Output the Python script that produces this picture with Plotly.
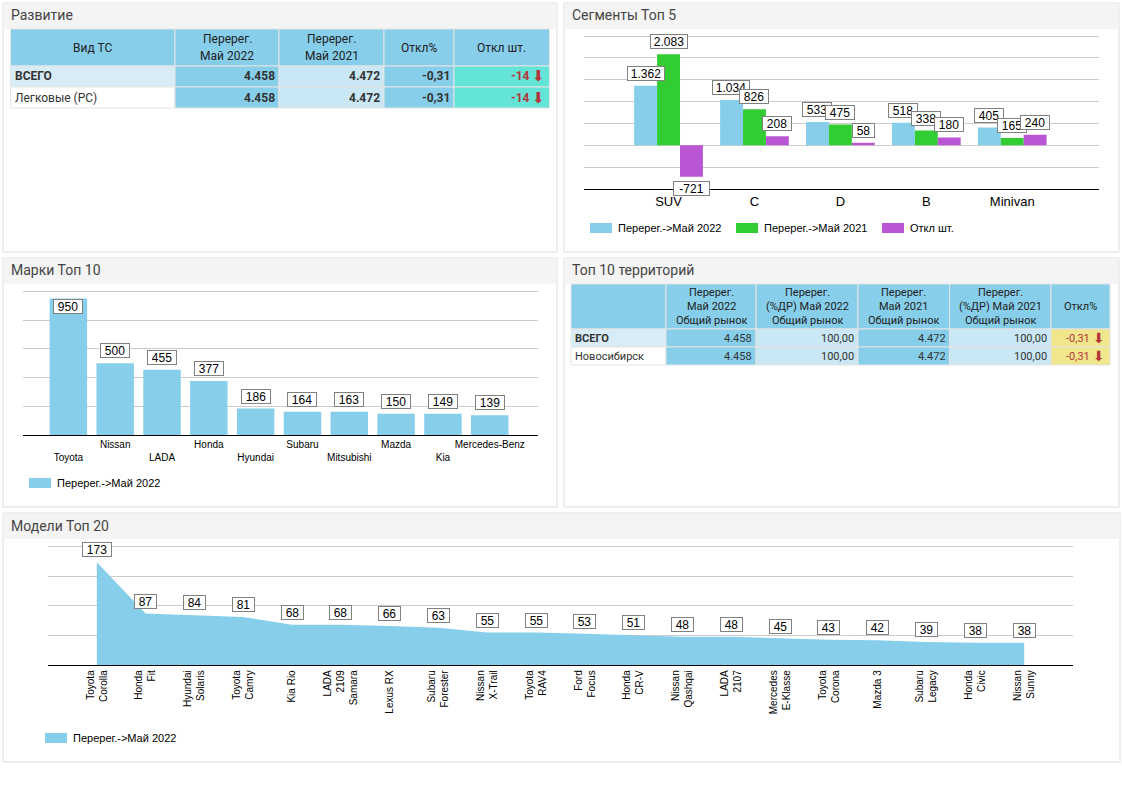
import plotly.graph_objects as go

W = 1122
H = 793

# Сегменты Топ 5
segments = ['SUV', 'C', 'D', 'B', 'Minivan']
seg_2022 = [1362, 1034, 533, 518, 405]
seg_2021 = [2083, 826, 475, 338, 165]
seg_diff = [-721, 208, 58, 180, 240]
seg_names = ['Перерег.->Май 2022', 'Перерег.->Май 2021', 'Откл шт.']

# Марки Топ 10
brands = ['Toyota', 'Nissan', 'LADA', 'Honda', 'Hyundai', 'Subaru', 'Mitsubishi', 'Mazda', 'Kia', 'Mercedes-Benz']
brand_values = [950, 500, 455, 377, 186, 164, 163, 150, 149, 139]

# Модели Топ 20
models = ['Toyota<br>Corolla', 'Honda<br>Fit', 'Hyundai<br>Solaris', 'Toyota<br>Camry', 'Kia Rio',
          'LADA<br>2109<br>Samara', 'Lexus RX', 'Subaru<br>Forester', 'Nissan<br>X-Trail', 'Toyota<br>RAV4',
          'Ford<br>Focus', 'Honda<br>CR-V', 'Nissan<br>Qashqai', 'LADA<br>2107', 'Mercedes<br>E-Klasse',
          'Toyota<br>Corona', 'Mazda 3', 'Subaru<br>Legacy', 'Honda<br>Civic', 'Nissan<br>Sunny']
model_values = [173, 87, 84, 81, 68, 68, 66, 63, 55, 55, 53, 51, 48, 48, 45, 43, 42, 39, 38, 38]

# Таблицы
dev_header = ['Вид ТС', 'Перерег.\nМай 2022', 'Перерег.\nМай 2021', 'Откл%', 'Откл шт.']
dev_rows = [['ВСЕГО', '4.458', '4.472', '-0,31', '-14'],
            ['Легковые (PC)', '4.458', '4.472', '-0,31', '-14']]
terr_header = ['', 'Перерег.\nМай 2022\nОбщий рынок', 'Перерег.\n(%ДР) Май 2022\nОбщий рынок',
               'Перерег.\nМай 2021\nОбщий рынок', 'Перерег.\n(%ДР) Май 2021\nОбщий рынок', 'Откл%']
terr_rows = [['ВСЕГО', '4.458', '100,00', '4.472', '100,00', '-0,31'],
             ['Новосибирск', '4.458', '100,00', '4.472', '100,00', '-0,31']]

SKY = '#87CEEB'
PALE = '#C9E7F4'
GREEN = '#32CD32'
PURPLE = '#BA55D3'
TURQ = '#64E4D6'
KHAKI = '#F0E68C'
RED = '#B5333A'
GRID = '#CCCCCC'
ARIAL = 'Liberation Sans, Arial, sans-serif'
ROBOTO = 'Roboto, sans-serif'

shapes = []
annots = []


def px(x):
    return x / W


def py(y):
    return 1 - y / H


def rect(x0, y0, x1, y1, fill, line=None):
    shapes.append(dict(type='rect', xref='paper', yref='paper', layer='below',
                       x0=px(x0), x1=px(x1), y0=py(y0), y1=py(y1), fillcolor=fill,
                       line=dict(color=line or fill, width=1 if line else 0)))


def label(x, y, text, size=12, color='#000000', anchor='left', family=ARIAL):
    annots.append(dict(xref='paper', yref='paper', x=px(x), y=py(y), text=text, showarrow=False,
                       xanchor=anchor, yanchor='middle', borderpad=0,
                       font=dict(family=family, size=size, color=color)))


def panel(x0, y0, x1, y1, title):
    rect(x0, y0, x1, y1, '#FFFFFF', '#DDDDDD')
    rect(x0 + 0.5, y0 + 0.5, x1 - 0.5, y0 + 26, '#F4F4F4')
    label(x0 + 7, y0 + 12.5, title, size=14, color='#444444', family=ROBOTO)


def legend(items, y):
    for x, color, text in items:
        rect(x, y - 5, x + 22, y + 5, color)
        label(x + 27, y, text, size=11)


def table(edges, top, head_h, row_h, header, rows, fills, size, line_h, bold_values):
    # шапка
    for c, text in enumerate(header):
        rect(edges[c], top, edges[c + 1], top + head_h, SKY, '#E4E4E4')
        lines = text.split('\n')
        for n, line in enumerate(lines):
            label((edges[c] + edges[c + 1]) / 2, top + head_h / 2 + (n - (len(lines) - 1) / 2) * line_h,
                  line, size=size, color='#222222', anchor='center', family=ROBOTO)
    for r, row in enumerate(rows):
        y0 = top + head_h + r * row_h
        for c, text in enumerate(row):
            x0, x1 = edges[c], edges[c + 1]
            fill = fills[c]
            if c == 0:
                fill = '#D7ECF6' if r == 0 else '#FFFFFF'
            rect(x0, y0, x1, y0 + row_h, fill, '#E4E4E4')
            mid = y0 + row_h / 2
            shown = '<b>%s</b>' % text if bold_values else text
            if c == 0:
                shown = '<b>%s</b>' % text if r == 0 else text
                label(x0 + 3, mid, shown, size=size, color='#333333', family=ROBOTO)
            elif c == len(row) - 1:
                label(x1 - 19, mid, shown, size=size, color=RED, anchor='right', family=ROBOTO)
                label(x1 - 4, mid, '⬇', size=size + 3, color=RED, anchor='right', family='DejaVu Sans')
            else:
                label(x1 - 3, mid, shown, size=size, color='#333333', anchor='right', family=ROBOTO)


def value_box(xref, yref, x, y, text, xshift=0, yshift=12.5):
    annots.append(dict(xref=xref, yref=yref, x=x, y=y, text=text, showarrow=False,
                       xshift=xshift, yshift=yshift, xanchor='center', yanchor='middle',
                       width=round(len(text) * 6.67 + 8) if '.' not in text else 36, height=13,
                       align='center', valign='middle', bgcolor='#FFFFFF', bordercolor='#808080',
                       borderwidth=1, borderpad=0,
                       font=dict(family=ARIAL, size=12, color='#000000')))


def fmt(v):
    return '{:,}'.format(v).replace(',', '.')


panel(3, 3, 557, 252, 'Развитие')
panel(564, 3, 1119, 252, 'Сегменты Топ 5')
panel(3, 258, 557, 507, 'Марки Топ 10')
panel(564, 258, 1119, 507, 'Топ 10 территорий')
panel(3, 513, 1120, 762, 'Модели Топ 20')

table([10.5, 175, 279, 384, 454, 549.5], 29, 37, 21, dev_header, dev_rows,
      ['', SKY, PALE, SKY, TURQ], 12, 17, True)
table([571, 666, 756, 858, 949.5, 1051, 1110], 284, 45, 18, terr_header, terr_rows,
      ['', SKY, PALE, SKY, PALE, KHAKI], 11, 14, False)

fig = go.Figure()

seg_series = [seg_2022, seg_2021, seg_diff]
seg_colors = [SKY, GREEN, PURPLE]
for s, values in enumerate(seg_series):
    fig.add_trace(go.Bar(x=segments, y=values, name=seg_names[s], marker=dict(color=seg_colors[s], line=dict(width=0)),
                         xaxis='x', yaxis='y', showlegend=False, hoverinfo='skip'))
    for i, v in enumerate(values):
        value_box('x', 'y', i, v, fmt(v), xshift=(s - 1) * 23, yshift=12.5 if v >= 0 else -11.5)

fig.add_trace(go.Bar(x=brands, y=brand_values, marker=dict(color=SKY, line=dict(width=0)),
                     xaxis='x2', yaxis='y2', showlegend=False, hoverinfo='skip'))
for i, v in enumerate(brand_values):
    # верхний столбец не помещает подпись сверху
    value_box('x2', 'y2', i, v, fmt(v), yshift=12.5 if v < 900 else -8)

fig.add_trace(go.Scatter(x=models, y=model_values, mode='lines', line=dict(width=0, color=SKY),
                         fill='tozeroy', fillcolor=SKY, xaxis='x3', yaxis='y3', showlegend=False, hoverinfo='skip'))
for i, v in enumerate(model_values):
    value_box('x3', 'y3', i, v, fmt(v), yshift=12.5)

legend([(590, SKY, seg_names[0]), (736, GREEN, seg_names[1]), (882, PURPLE, seg_names[2])], 228)
legend([(29, SKY, seg_names[0])], 483)
legend([(45, SKY, seg_names[0])], 738)


def x_axis(x0, x1, low, high, **kw):
    return dict(domain=[px(x0), px(x1)], type='category', range=[low, high], showgrid=False, zeroline=False,
                showline=True, linecolor='#000000', linewidth=1, ticks='', dtick=1, **kw)


def y_axis(y_top, y_bottom, low, high, step, anchor):
    # верх чуть выше последней линии сетки, иначе plotly её не рисует
    extra = (high - low) * 2 / (y_bottom - y_top)
    return dict(domain=[py(y_bottom), py(y_top - 2)], range=[low, high + extra], dtick=step, tick0=0,
                showticklabels=False, showgrid=True, gridcolor=GRID, gridwidth=1,
                zeroline=True, zerolinecolor=GRID, zerolinewidth=1, showline=False, ticks='', anchor=anchor)


staggered = [('\u00a0<br>' + b) if i % 2 == 0 else b for i, b in enumerate(brands)]

fig.update_layout(
    width=W, height=H, margin=dict(l=0, r=0, t=0, b=0, pad=0, autoexpand=False),
    paper_bgcolor='#FFFFFF', plot_bgcolor='rgba(0,0,0,0)',
    barmode='group', bargap=0.2, bargroupgap=0, showlegend=False,
    xaxis=x_axis(583.5, 1099, -0.99, 5.01, anchor='y', tickfont=dict(family=ARIAL, size=13, color='#000000')),
    yaxis=y_axis(36, 189, -1000, 2500, 500, 'x'),
    xaxis2=x_axis(22.5, 537.5, -0.98, 10.02, anchor='y2', tickmode='array', tickvals=brands, ticktext=staggered,
                  tickangle=0, tickfont=dict(family=ARIAL, size=10, color='#000000')),
    yaxis2=y_axis(291.3, 435.3, 0, 1000, 200, 'x2'),
    xaxis3=x_axis(48, 1073, -1, 20, anchor='y3', tickangle=-90, tickfont=dict(family=ARIAL, size=10, color='#000000')),
    yaxis3=y_axis(546.3, 665.3, 0, 200, 50, 'x3'),
    shapes=shapes, annotations=annots,
)

fig.write_html("out.html", post_script="document.body.style.margin='0';", config={'displayModeBar': False})
